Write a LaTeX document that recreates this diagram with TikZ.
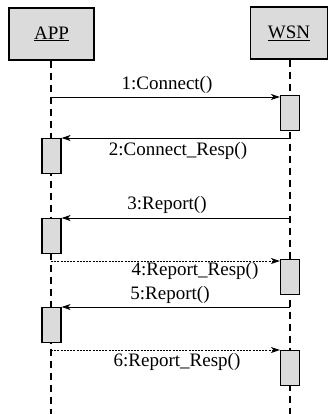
\documentclass[tikz,border=0pt]{standalone}
\usepackage{fontspec}
\setmainfont{Liberation Serif}
\usetikzlibrary{arrows.meta}
\begin{document}
\begin{tikzpicture}[x=1pt,y=-1pt,
  objbox/.style={draw=black,line width=1.3pt,fill=gray!28,minimum width=#1,minimum height=52pt,inner sep=0pt,font=\fontsize{19}{22}\selectfont},
  actbox/.style={draw=black,line width=1.1pt,fill=gray!28,minimum width=19pt,minimum height=35pt,inner sep=0pt},
  lifeline/.style={line width=1.1pt,dash pattern=on 7pt off 5pt},
  msg/.style={line width=0.9pt,-{Stealth[length=9pt,width=6pt,inset=2.5pt]}},
  reply/.style={msg,dash pattern=on 2pt off 1.2pt},
  lbl/.style={font=\fontsize{19}{22}\selectfont,inner sep=0pt}]
\useasboundingbox (0,0) rectangle (328,414);
% objects
\node[objbox=85pt] (app) at (51.5,34) {\underline{APP}};
\node[objbox=77pt] (wsn) at (289,33) {\underline{WSN}};
% lifeline ends
\coordinate (append) at (51,414);
\coordinate (wsnend) at (290,414);
\draw[lifeline] (app.south -| append) -- (append);
\draw[lifeline] (wsn.south -| wsnend) -- (wsnend);
% activation boxes
\node[actbox,anchor=north] (w1) at (290,95) {};
\node[actbox,anchor=north] (a2) at (51.5,138) {};
\node[actbox,anchor=north] (a3) at (51.5,218) {};
\node[actbox,anchor=north] (w4) at (290,259) {};
\node[actbox,anchor=north] (a5) at (51.5,307) {};
\node[actbox,anchor=north] (w6) at (290,350) {};
% message start points
\coordinate (s1) at (51,97);
\coordinate (s2) at (290,138);
\coordinate (s3) at (290,218);
\coordinate (s4) at (51,261);
\coordinate (s5) at (290,307);
\coordinate (s6) at (51,350);
% messages
\draw[msg] (s1) -- (s1 -| w1.west);
\draw[msg] (s2) -- (s2 -| a2.east);
\draw[msg] (s3) -- (s3 -| a3.east);
\draw[reply] (s4) -- (s4 -| w4.west);
\draw[msg] (s5) -- (s5 -| a5.east);
\draw[reply] (s6) -- (s6 -| w6.west);
% labels
\node[lbl] (l1) at (167,85) {1:Connect()};
\node[lbl] (l2) at (178,151) {2:Connect\_Resp()};
\node[lbl] (l3) at (167,205) {3:Report()};
\node[lbl] (l4) at (195,271) {4:Report\_Resp()};
\node[lbl] (l5) at (170,295) {5:Report()};
\node[lbl] (l6) at (177,362) {6:Report\_Resp()};
\end{tikzpicture}
\end{document}
